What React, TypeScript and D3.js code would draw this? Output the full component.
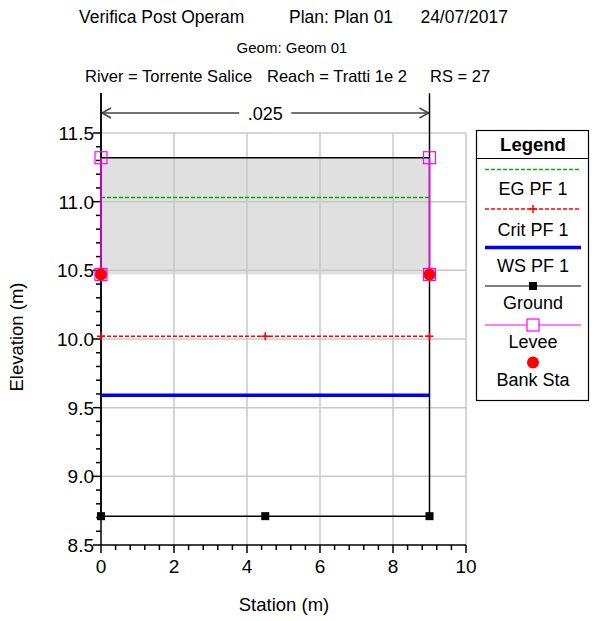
import * as d3 from "d3";
import { useEffect, useRef } from "react";

// cross-section data
const stations = [0, 4.5, 9];
const groundSta = [0, 0, 4.5, 9, 9];
const groundElev = [11.79, 8.71, 8.71, 8.71, 11.79];
const groundMarkElev = [8.71, 8.71, 8.71];
const levee = [
  { sta: 0, top: 11.32, bottom: 10.47 },
  { sta: 9, top: 11.32, bottom: 10.47 },
];
const bankSta = [0, 9];
const bankElev = 10.47;
const egElev = 11.03;
const critElev = 10.02;
const wsElev = 9.59;
const manningN = ".025";
const xTicks = [0, 2, 4, 6, 8, 10];
const yTicks = [8.5, 9.0, 9.5, 10.0, 10.5, 11.0, 11.5];
const legendItems = ["EG PF 1", "Crit PF 1", "WS PF 1", "Ground", "Levee", "Bank Sta"];

const FONT = "'Liberation Sans', Arial, sans-serif";
const GREEN = "#00b000";
const RED = "#ff0000";

export default function App() {
  const svgRef = useRef(null);

  useEffect(() => {
    const svg = d3.select(svgRef.current);
    svg.selectAll("*").remove();

    const x = d3.scaleLinear().domain([0, 10]).range([101, 466]);
    const y = d3.scaleLinear().domain([8.5, 11.5]).range([545, 133]);

    // title lines
    const title = svg.append("g").attr("font-family", FONT).attr("fill", "#000");
    title.append("text").attr("x", 79).attr("y", 23).attr("font-size", 17.5).text("Verifica Post Operam");
    title.append("text").attr("x", 289).attr("y", 23).attr("font-size", 17.5).text("Plan: Plan 01");
    title.append("text").attr("x", 508).attr("y", 23).attr("font-size", 17.5).attr("text-anchor", "end").text("24/07/2017");
    title.append("text").attr("x", 292).attr("y", 53).attr("font-size", 15).attr("text-anchor", "middle").text("Geom: Geom 01");
    title.append("text").attr("x", 85).attr("y", 82).attr("font-size", 16.5).text("River = Torrente Salice");
    title.append("text").attr("x", 267).attr("y", 82).attr("font-size", 16.5).text("Reach = Tratti 1e 2");
    title.append("text").attr("x", 430).attr("y", 82).attr("font-size", 16.5).text("RS = 27");

    // gray levee area
    svg.append("rect")
      .attr("x", x(0)).attr("y", y(levee[0].top))
      .attr("width", x(9) - x(0)).attr("height", y(levee[0].bottom) - y(levee[0].top))
      .attr("fill", "#e0e0e0");

    // grid
    const grid = svg.append("g").attr("stroke", "#c8c8c8").attr("stroke-width", 1.5);
    xTicks.filter((t) => t > 0).forEach((t) => {
      grid.append("line").attr("x1", x(t)).attr("x2", x(t)).attr("y1", y(11.5)).attr("y2", y(8.5));
    });
    yTicks.filter((t) => t > 8.5).forEach((t) => {
      grid.append("line").attr("x1", x(0)).attr("x2", x(10)).attr("y1", y(t)).attr("y2", y(t));
    });

    svg.append("line")
      .attr("x1", x(0)).attr("x2", x(9))
      .attr("y1", y(levee[0].top)).attr("y2", y(levee[0].top))
      .attr("stroke", "#000").attr("stroke-width", 1.5);

    // axes
    const axes = svg.append("g").attr("stroke", "#000").attr("stroke-width", 1.5);
    axes.append("line").attr("x1", x(0)).attr("x2", x(0)).attr("y1", 93).attr("y2", y(8.5));
    axes.append("line").attr("x1", x(0)).attr("x2", x(10)).attr("y1", y(8.5)).attr("y2", y(8.5));
    d3.range(0, 10.01, 0.4).forEach((t) => {
      const major = xTicks.some((m) => Math.abs(m - t) < 1e-6);
      axes.append("line").attr("x1", x(t)).attr("x2", x(t)).attr("y1", y(8.5)).attr("y2", y(8.5) + (major ? 8 : 5));
    });
    d3.range(8.5, 11.51, 0.1).forEach((t) => {
      const major = yTicks.some((m) => Math.abs(m - t) < 1e-6);
      axes.append("line").attr("x1", x(0) - (major ? 8 : 5)).attr("x2", x(0)).attr("y1", y(t)).attr("y2", y(t));
    });

    const labels = svg.append("g").attr("font-family", FONT).attr("font-size", 19).attr("fill", "#000");
    xTicks.forEach((t) => {
      labels.append("text").attr("x", x(t)).attr("y", 573).attr("text-anchor", "middle").text(d3.format("d")(t));
    });
    yTicks.forEach((t) => {
      labels.append("text").attr("x", 94).attr("y", y(t) + 7).attr("text-anchor", "end").text(d3.format(".1f")(t));
    });
    labels.append("text").attr("x", 284).attr("y", 611).attr("font-size", 18.5).attr("text-anchor", "middle").text("Station (m)");
    labels.append("text")
      .attr("transform", `translate(23,337) rotate(-90)`)
      .attr("font-size", 18.5).attr("text-anchor", "middle").text("Elevation (m)");

    // Manning's n arrow
    const arrowY = 113;
    const arr = svg.append("g").attr("stroke", "#444").attr("stroke-width", 1.5).attr("fill", "none");
    arr.append("line").attr("x1", x(0)).attr("x2", x(4.5) - 26).attr("y1", arrowY).attr("y2", arrowY);
    arr.append("line").attr("x1", x(4.5) + 26).attr("x2", x(9)).attr("y1", arrowY).attr("y2", arrowY);
    arr.append("path").attr("d", `M${x(0) + 10},${arrowY - 5} L${x(0) + 1},${arrowY} L${x(0) + 10},${arrowY + 5}`);
    arr.append("path").attr("d", `M${x(9) - 10},${arrowY - 5} L${x(9) - 1},${arrowY} L${x(9) - 10},${arrowY + 5}`);
    svg.append("text").attr("x", x(4.5)).attr("y", arrowY + 6.5).attr("font-family", FONT).attr("font-size", 18)
      .attr("text-anchor", "middle").text(manningN);

    // ground line
    const line = d3.line<[number, number]>().x((d) => x(d[0])).y((d) => y(d[1]));
    const groundPts = groundSta.map((s, i) => [s, groundElev[i]] as [number, number]);
    svg.append("path").attr("d", line(groundPts))
      .attr("fill", "none").attr("stroke", "#000").attr("stroke-width", 1.5);

    // EG
    svg.append("path").attr("d", line(stations.map((s) => [s, egElev] as [number, number])))
      .attr("stroke", GREEN).attr("stroke-dasharray", "4,2").attr("stroke-width", 1.5).attr("fill", "none");
    // Crit
    svg.append("path").attr("d", line(stations.map((s) => [s, critElev] as [number, number])))
      .attr("stroke", RED).attr("stroke-dasharray", "4,2").attr("stroke-width", 1.5).attr("fill", "none");
    stations.forEach((s) => {
      svg.append("path").attr("d", `M${x(s) - 4},${y(critElev)} h8 M${x(s)},${y(critElev) - 4} v8`)
        .attr("stroke", RED).attr("stroke-width", 1.5);
    });
    // WS
    svg.append("path").attr("d", line(stations.map((s) => [s, wsElev] as [number, number])))
      .attr("stroke", "#0000ff").attr("stroke-width", 3.5).attr("fill", "none");

    // ground markers
    stations.forEach((s, i) => {
      svg.append("rect").attr("x", x(s) - 4).attr("y", y(groundMarkElev[i]) - 4).attr("width", 8).attr("height", 8).attr("fill", "#000");
    });

    // levee
    levee.forEach((l) => {
      svg.append("line").attr("x1", x(l.sta)).attr("x2", x(l.sta)).attr("y1", y(l.top)).attr("y2", y(l.bottom))
        .attr("stroke", "#ff00ff").attr("stroke-width", 1.5);
      [l.top, l.bottom].forEach((e) => {
        svg.append("rect").attr("x", x(l.sta) - 6).attr("y", y(e) - 6).attr("width", 12).attr("height", 12)
          .attr("fill", "none").attr("stroke", "#ff00ff").attr("stroke-width", 1.2);
      });
    });

    // bank stations
    bankSta.forEach((s) => {
      svg.append("circle").attr("cx", x(s)).attr("cy", y(bankElev)).attr("r", 6).attr("fill", RED);
    });

    // legend
    const lg = svg.append("g").attr("font-family", FONT);
    lg.append("rect").attr("x", 476.5).attr("y", 130.5).attr("width", 112).attr("height", 270)
      .attr("fill", "#fff").attr("stroke", "#000").attr("stroke-width", 1.2);
    lg.append("line").attr("x1", 476.5).attr("x2", 588.5).attr("y1", 158.5).attr("y2", 158.5).attr("stroke", "#000").attr("stroke-width", 1.2);
    lg.append("text").attr("x", 533).attr("y", 151).attr("text-anchor", "middle").attr("font-size", 18.5).attr("font-weight", "bold").text("Legend");
    const cx = 533;
    const rowLine = [169.5, 209, 247.5, 286, 325, 362.5];
    const rowText = [194.5, 236, 272, 309, 348, 386];
    legendItems.forEach((name, i) => {
      lg.append("text").attr("x", cx).attr("y", rowText[i]).attr("text-anchor", "middle").attr("font-size", 18).text(name);
      const ly = rowLine[i];
      if (i === 0) lg.append("line").attr("x1", 485).attr("x2", 581).attr("y1", ly).attr("y2", ly).attr("stroke", GREEN).attr("stroke-dasharray", "4,2").attr("stroke-width", 1.5);
      if (i === 1) {
        lg.append("line").attr("x1", 485).attr("x2", 581).attr("y1", ly).attr("y2", ly).attr("stroke", RED).attr("stroke-dasharray", "4,2").attr("stroke-width", 1.5);
        lg.append("path").attr("d", `M${cx - 4},${ly} h8 M${cx},${ly - 4} v8`).attr("stroke", RED).attr("stroke-width", 1.5);
      }
      if (i === 2) lg.append("line").attr("x1", 485).attr("x2", 581).attr("y1", ly).attr("y2", ly).attr("stroke", "#0000ff").attr("stroke-width", 3.5);
      if (i === 3) {
        lg.append("line").attr("x1", 485).attr("x2", 581).attr("y1", ly).attr("y2", ly).attr("stroke", "#000").attr("stroke-width", 1.2);
        lg.append("rect").attr("x", cx - 4).attr("y", ly - 4).attr("width", 8).attr("height", 8).attr("fill", "#000");
      }
      if (i === 4) {
        lg.append("line").attr("x1", 485).attr("x2", 581).attr("y1", ly).attr("y2", ly).attr("stroke", "#ff00ff").attr("stroke-width", 1.2);
        lg.append("rect").attr("x", cx - 6).attr("y", ly - 6).attr("width", 12).attr("height", 12).attr("fill", "#fff").attr("stroke", "#ff00ff").attr("stroke-width", 1.2);
      }
      if (i === 5) lg.append("circle").attr("cx", cx).attr("cy", ly).attr("r", 6).attr("fill", RED);
    });
  }, []);

  return <svg ref={svgRef} width={595} height={621} style={{ position: "absolute", left: 0, top: 0, background: "#fff" }}></svg>;
}
